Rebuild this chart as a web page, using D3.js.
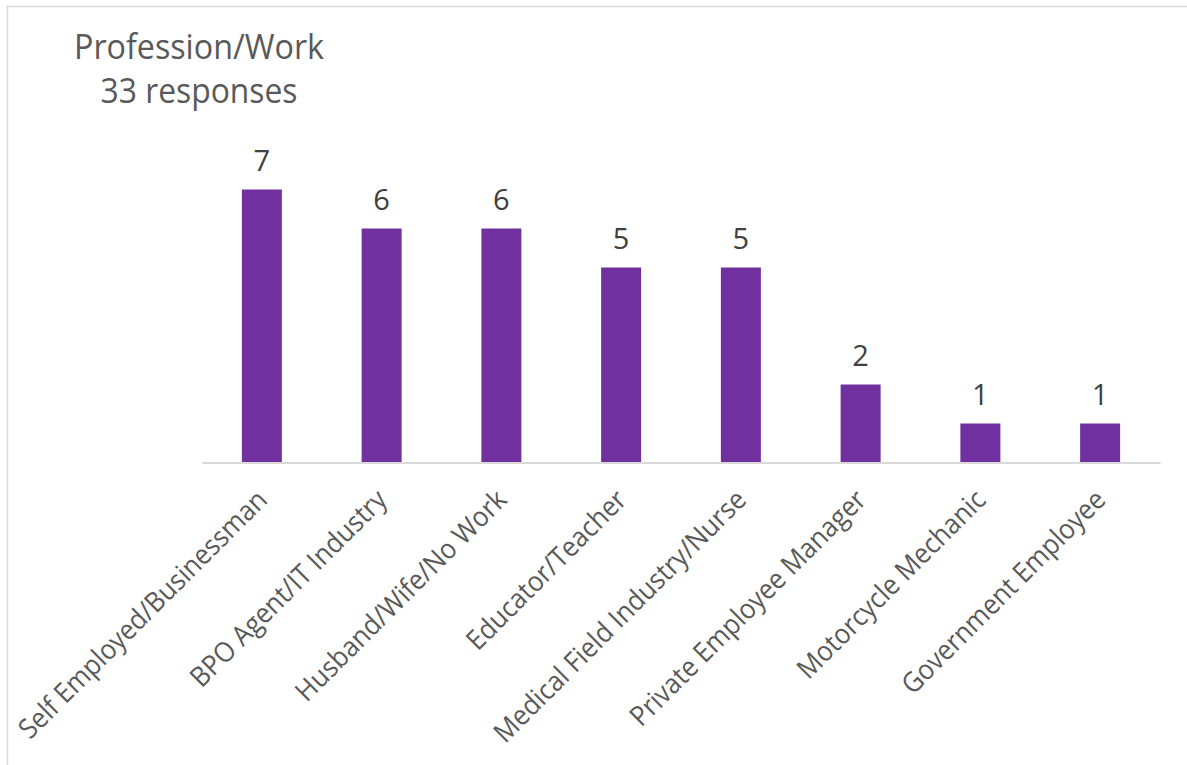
<!DOCTYPE html>
<html>
<head>
<meta charset="utf-8">
<script src="https://cdn.jsdelivr.net/npm/d3@7"></script>
<style>
  html, body { margin: 0; padding: 0; background: #ffffff; }
  svg { display: block; }
  text { font-family: "Open Sans", "Noto Sans", sans-serif; }
</style>
</head>
<body>
<svg id="chart" width="1187" height="765"></svg>
<script>
const categories = [
  "Self Employed/Businessman",
  "BPO Agent/IT Industry",
  "Husband/Wife/No Work",
  "Educator/Teacher",
  "Medical Field Industry/Nurse",
  "Private Employee Manager",
  "Motorcycle Mechanic",
  "Government Employee"
];
const values = [7, 6, 6, 5, 5, 2, 1, 1];
const titleLines = ["Profession/Work", "33 responses"];

const svg = d3.select("#chart");

// chart border
svg.append("rect")
  .attr("x", 7.5).attr("y", 6.5)
  .attr("width", 1200).attr("height", 790)
  .attr("fill", "none")
  .attr("stroke", "#d9d9d9")
  .attr("stroke-width", 1.5);

const x = d3.scaleBand()
  .domain(categories)
  .range([202, 1160])
  .paddingInner(0.666)
  .paddingOuter(0.333);

const y = d3.scaleLinear()
  .domain([0, 8])
  .range([462.5, 150.5]);

const GROW = 1.08;
function measure(text, size) {
  const t = svg.append("text").attr("font-size", size).text(text);
  const w = t.node().getComputedTextLength();
  t.remove();
  return w;
}
function fitSize(text, target) {
  return 100 * target / measure(text, 100);
}

// title
const titleSize = fitSize(titleLines[0], 250) * GROW;
const subSize = fitSize(titleLines[1], 197) * GROW;
svg.append("text")
  .attr("x", 199).attr("y", 59)
  .attr("text-anchor", "middle")
  .attr("font-size", titleSize)
  .attr("textLength", 250)
  .attr("lengthAdjust", "spacingAndGlyphs")
  .attr("fill", "#595959")
  .text(titleLines[0]);
svg.append("text")
  .attr("x", 199).attr("y", 103)
  .attr("text-anchor", "middle")
  .attr("font-size", subSize)
  .attr("textLength", 197)
  .attr("lengthAdjust", "spacingAndGlyphs")
  .attr("fill", "#595959")
  .text(titleLines[1]);

// bars
svg.append("g")
  .selectAll("rect")
  .data(values)
  .join("rect")
  .attr("x", (d, i) => x(categories[i]))
  .attr("y", d => y(d))
  .attr("width", x.bandwidth())
  .attr("height", d => y(0) - y(d))
  .attr("fill", "#7030a0");

// data labels
svg.append("g")
  .selectAll("text")
  .data(values)
  .join("text")
  .attr("x", (d, i) => x(categories[i]) + x.bandwidth() / 2)
  .attr("y", d => y(d) - 19)
  .attr("text-anchor", "middle")
  .attr("font-size", 29)
  .attr("fill", "#404040")
  .text(d => d);

// x axis
const baseSize = fitSize(categories[0], 338);
const labelSize = baseSize * GROW;
const xAxis = svg.append("g")
  .attr("transform", `translate(0,${y(0)})`)
  .call(d3.axisBottom(x).tickSize(0).tickSizeOuter(0));
xAxis.select(".domain")
  .attr("stroke", "#d9d9d9")
  .attr("stroke-width", 2);
xAxis.selectAll(".tick text")
  .attr("font-family", "\"Open Sans\", \"Noto Sans\", sans-serif")
  .attr("font-size", labelSize)
  .attr("fill", "#595959")
  .attr("text-anchor", "end")
  .attr("dy", null)
  .attr("y", 0)
  .each(function(d) {
    const w = measure(d, baseSize);
    d3.select(this)
      .attr("textLength", w)
      .attr("lengthAdjust", "spacingAndGlyphs");
  })
  .attr("transform", "translate(7,39) rotate(-45)");
</script>
</body>
</html>
